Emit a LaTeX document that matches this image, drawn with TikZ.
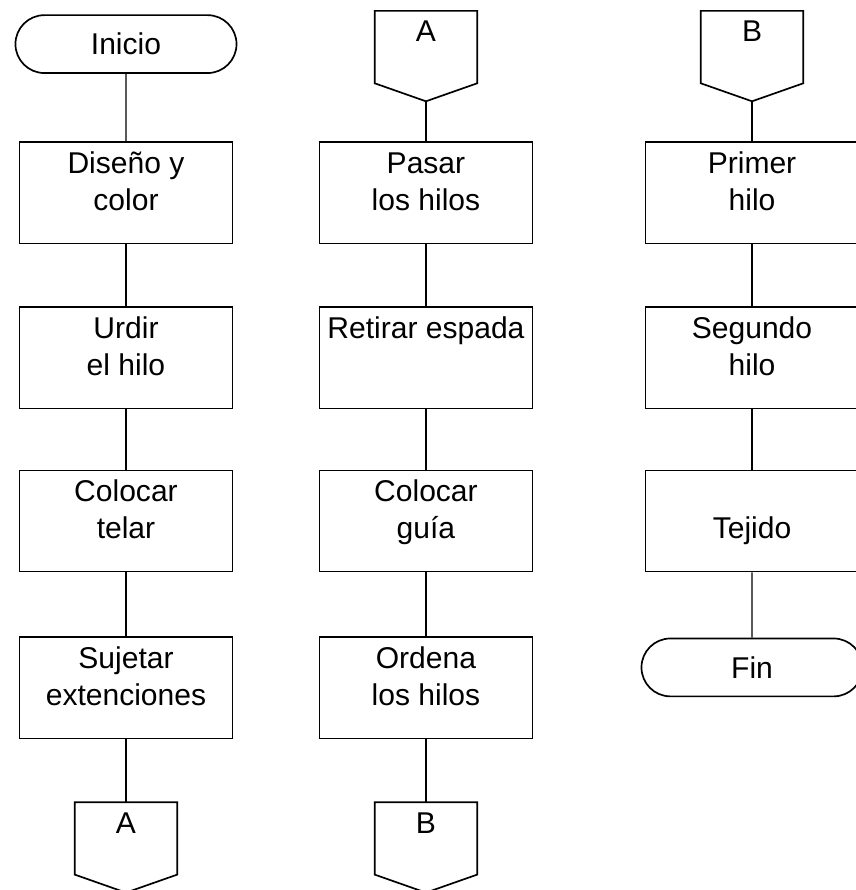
\documentclass[tikz,border=0pt]{standalone}
\usepackage{fontspec}
\setmainfont{Liberation Sans}
\usetikzlibrary{shapes.misc}
% text set from the top of the box
\newcommand{\boxtext}[1]{\parbox[c][3.37cm][t]{7.1cm}{\centering\rule{0pt}{1.03cm}#1}}
\newcommand{\offtext}[1]{\parbox[c][2.4cm][t]{3.4cm}{\centering\rule{0pt}{1.03cm}#1}}

\begin{document}
\begin{tikzpicture}[
  proc/.style={draw, line width=1.6pt, inner sep=0pt, font=\fontsize{28.5pt}{35pt}\selectfont},
  term/.style={draw, rounded rectangle, line width=1.6pt, minimum width=7.37cm, minimum height=1.93cm, inner sep=0pt, font=\fontsize{28.5pt}{35pt}\selectfont},
  offpage/.style={inner sep=0pt, font=\fontsize{28.5pt}{35pt}\selectfont},
  outline/.style={line width=1.6pt, line join=miter},
  link/.style={line width=1.2pt}
]
  \useasboundingbox (0,0) rectangle (28.53,-29.67);

  % Column 1
  \node[term] (inicio) at (4.2,-1.47) {Inicio};
  \node[proc] (diseno) at (4.2,-6.43) {\boxtext{Diseño y\\color}};
  \node[proc] (urdir) at (4.2,-11.93) {\boxtext{Urdir\\el hilo}};
  \node[proc] (telar) at (4.2,-17.37) {\boxtext{Colocar\\telar}};
  \node[proc] (sujetar) at (4.2,-22.93) {\boxtext{Sujetar\\extenciones}};
  \node[offpage] (outA) at (4.2,-27.95) {\offtext{A}};

  % Column 2
  \node[offpage] (inA) at (14.2,-1.57) {\offtext{A}};
  \node[proc] (pasar) at (14.2,-6.43) {\boxtext{Pasar\\los hilos}};
  \node[proc] (retirar) at (14.2,-11.93) {\boxtext{Retirar espada}};
  \node[proc] (guia) at (14.2,-17.37) {\boxtext{Colocar\\guía}};
  \node[proc] (ordena) at (14.2,-22.93) {\boxtext{Ordena\\los hilos}};
  \node[offpage] (outB) at (14.2,-27.95) {\offtext{B}};

  % Column 3
  \node[offpage] (inB) at (25.07,-1.57) {\offtext{B}};
  \node[proc] (primer) at (25.07,-6.43) {\boxtext{Primer\\hilo}};
  \node[proc] (segundo) at (25.07,-11.93) {\boxtext{Segundo\\hilo}};
  \node[proc] (tejido) at (25.07,-17.37) {\boxtext{\\Tejido}};
  \node[term] (fin) at (25.07,-22.25) {Fin};

  % Off-page connector outlines
  \foreach \n in {outA,inA,outB,inB}
    \draw[outline] (\n.north west) -- (\n.south west) -- ([yshift=-0.6cm]\n.south) -- (\n.south east) -- (\n.north east) -- cycle;
  \coordinate (inAtip) at ([yshift=-0.6cm]inA.south);
  \coordinate (inBtip) at ([yshift=-0.6cm]inB.south);

  % Connectors
  \draw[link] (inicio) -- (diseno);
  \draw[link] (diseno) -- (urdir);
  \draw[link] (urdir) -- (telar);
  \draw[link] (telar) -- (sujetar);
  \draw[link] (sujetar) -- (outA.north);

  \draw[link] (inAtip) -- (pasar);
  \draw[link] (pasar) -- (retirar);
  \draw[link] (retirar) -- (guia);
  \draw[link] (guia) -- (ordena);
  \draw[link] (ordena) -- (outB.north);

  \draw[link] (inBtip) -- (primer);
  \draw[link] (primer) -- (segundo);
  \draw[link] (segundo) -- (tejido);
  \draw[link] (tejido) -- (fin);
\end{tikzpicture}
\end{document}
